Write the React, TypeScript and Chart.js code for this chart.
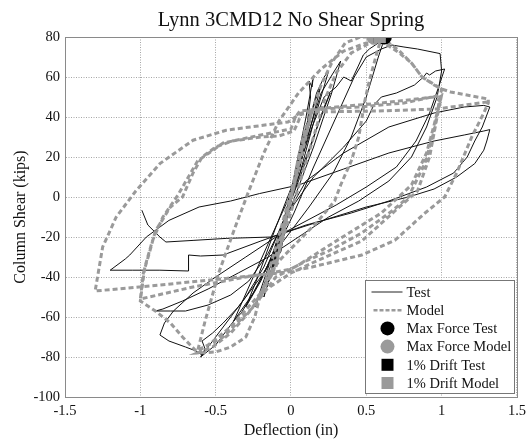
import React, { useEffect, useRef } from "react";
import { Chart, registerables } from "chart.js";

Chart.register(...registerables);

const chartTitle = "Lynn 3CMD12 No Shear Spring";
const xAxisLabel = "Deflection (in)";
const yAxisLabel = "Column Shear (kips)";
const xTickValues = [-1.5, -1, -0.5, 0, 0.5, 1, 1.5];
const yTickValues = [-100, -80, -60, -40, -20, 0, 20, 40, 60, 80];

// Test (deflection in, shear kips)
const testPath: [number, number][] = [
  [0, 0], [0.03, 12], [0.06, 24], [0.02, 6], [-0.02, -8], [-0.05, -20], [-0.01, -3], [0.04, 15], [0.08, 30], [0.03, 8],
  [-0.03, -12], [-0.07, -28], [-0.02, -6], [0.05, 18], [0.1, 35], [0.13, 42], [0.06, 15], [-0.04, -12], [-0.1, -32],
  [-0.13, -38], [-0.05, -12], [0.06, 20], [0.11, 38], [0.13, 50], [0.12, 58], [0.14, 55], [0.15, 61], [0.1, 40], [0.02, 10],
  [-0.06, -18], [-0.12, -36], [-0.16, -45], [-0.08, -22], [0.02, 5], [0.1, 30], [0.16, 48], [0.2, 56], [0.14, 38],
  [0.04, 10], [-0.06, -18], [-0.14, -40], [-0.18, -50], [-0.1, -28], [0.0, 2], [0.1, 32], [0.17, 52], [0.22, 60],
  [0.25, 63], [0.16, 40], [0.06, 12], [-0.06, -16], [-0.15, -38], [-0.2, -48], [-0.24, -55], [-0.15, -35], [-0.02, -5],
  [0.1, 28], [0.2, 52], [0.28, 62], [0.33, 68], [0.27, 52], [0.15, 25], [0, -5], [-0.14, -32], [-0.25, -48], [-0.33, -58],
  [-0.38, -62], [-0.28, -45], [-0.12, -18], [0.05, 10], [0.15, 30], [0.22, 45], [0.26, 52], [0.18, 36], [0.08, 14],
  [-0.04, -10], [-0.12, -28], [-0.2, -42], [-0.3, -55], [-0.22, -40], [-0.1, -15], [0.04, 12], [0.14, 35], [0.22, 50],
  [0.3, 55], [0.35, 60], [0.4, 58], [0.45, 66],
  [0.48, 71], [0.52, 74], [0.58, 77], [0.62, 79], [0.58, 70], [0.5, 50], [0.4, 30], [0.28, 12], [0.12, -5], [-0.05, -22],
  [-0.2, -40], [-0.35, -55], [-0.45, -63], [-0.52, -68], [-0.59, -72], [-0.57, -76], [-0.6, -80], [-0.5, -74],
  [-0.38, -62], [-0.25, -48], [-0.12, -30], [0.02, -8], [0.15, 15], [0.3, 40], [0.42, 60], [0.5, 70], [0.6, 74],
  [0.67, 76], [0.75, 75], [0.84, 74], [0.99, 71.7], [1.0, 63], [0.97, 50], [0.9, 35], [0.8, 20], [0.65, 8], [0.45, -2],
  [0.25, -10], [0.05, -20], [-0.15, -30], [-0.35, -38], [-0.55, -46], [-0.72, -52], [-0.85, -56], [-0.9, -57],
  [-0.8, -57], [-0.7, -57], [-0.55, -54], [-0.4, -49], [-0.28, -42], [-0.15, -28], [-0.02, -8], [0.15, 10], [0.35, 25],
  [0.5, 38], [0.55, 46], [0.6, 50], [0.7, 52], [0.82, 56], [0.88, 60], [0.9, 62], [0.92, 61], [0.96, 63], [1.02, 64],
  [0.98, 55], [0.92, 42], [0.83, 28], [0.7, 15], [0.5, 5], [0.3, -4], [0.1, -12], [-0.1, -20], [-0.3, -30], [-0.5, -40],
  [-0.65, -48], [-0.78, -57], [-0.84, -63], [-0.87, -69], [-0.81, -72], [-0.7, -75], [-0.63, -77], [-0.59, -79],
  [-0.45, -65], [-0.3, -50], [-0.18, -35], [-0.05, -12], [0.1, 8], [0.35, 22], [0.65, 35], [0.95, 42], [1.15, 45],
  [1.28, 45.8], [1.32, 45], [1.27, 35], [1.22, 28], [1.17, 20], [1.08, 12], [0.9, 5], [0.65, -2], [0.4, -8], [0.1, -14],
  [-0.2, -22], [-0.45, -29], [-0.6, -29.5], [-0.68, -29], [-0.68, -37], [-0.87, -36.6], [-1.05, -36.6], [-1.2, -36.6],
  [-1.1, -31], [-1.07, -29], [-0.96, -20], [-0.81, -11.7], [-0.61, -5], [-0.4, -2], [-0.21, 1.7], [0.05, 6], [0.35, 14],
  [0.65, 22], [0.95, 28], [1.15, 31], [1.28, 33], [1.32, 33.7], [1.3, 28], [1.28, 23.4], [1.22, 16.7], [1.1, 10],
  [0.95, 4], [0.78, 0], [0.5, -5], [0.2, -12], [-0.13, -20], [-0.43, -20.7], [-0.65, -21.7], [-0.83, -22.5], [-0.87, -20],
  [-0.95, -14], [-0.99, -6.6],
];

// Model (deflection in, shear kips)
const modelPath: [number, number][] = [
  [0, 0], [0.05, 20], [0.1, 36], [0.04, 12], [-0.05, -18], [-0.1, -35], [-0.03, -10], [0.06, 22], [0.14, 44], [0.07, 20],
  [-0.05, -15], [-0.13, -38], [-0.2, -50], [-0.1, -25], [0.02, 8], [0.12, 38], [0.2, 56], [0.27, 67], [0.36, 77],
  [0.46, 80], [0.55, 80], [0.6, 79.5],
  [0.57, 72], [0.52, 58], [0.49, 48], [0.45, 30], [0.4, 18], [0.33, 6], [0.29, -2], [0.18, -12], [0.05, -22], [-0.08, -32],
  [-0.13, -38], [-0.2, -48], [-0.26, -56], [-0.4, -68], [-0.52, -75], [-0.62, -78],
  [-0.5, -77.5], [-0.4, -75], [-0.3, -70], [-0.24, -60], [-0.2, -48], [-0.12, -38], [-0.05, -20], [0.05, 5], [0.15, 30],
  [0.22, 48], [0.3, 62], [0.4, 72], [0.55, 78], [0.65, 77], [0.72, 73], [0.8, 67], [0.87, 60], [0.95, 56], [1.0, 54],
  [0.98, 46], [0.95, 33], [0.89, 17], [0.78, 0], [0.67, -7], [0.47, -18], [0.25, -27], [0.1, -32], [0, -36], [-0.13, -38],
  [-0.3, -40], [-0.65, -45], [-1.0, -51],
  [-0.98, -38], [-0.94, -28], [-0.9, -17], [-0.8, -5], [-0.72, 0], [-0.65, 12], [-0.59, 20], [-0.5, 25], [-0.39, 28],
  [-0.2, 30], [-0.08, 30.5], [0.02, 33], [0.05, 38], [0.07, 42], [0.2, 44], [0.45, 45], [0.75, 47], [1.0, 51],
  [0.97, 40], [0.92, 20], [0.84, 3], [0.69, -7], [0.47, -22], [0.14, -33], [0, -38], [-0.2, -48], [-0.4, -65],
  [-0.55, -74], [-0.63, -77], [-0.72, -70], [-0.8, -63], [-0.9, -57], [-1.0, -52],
  [-0.97, -35], [-0.92, -22], [-0.85, -10], [-0.75, 1], [-0.62, 18], [-0.45, 27], [-0.2, 31], [0, 34], [0.03, 40],
  [0.06, 43], [0.3, 45], [0.6, 47], [0.95, 50], [0.99, 48], [0.95, 36], [0.9, 22], [0.8, 6], [0.6, -8], [0.3, -22],
  [0.05, -34], [-0.1, -40], [-0.25, -55], [-0.45, -70], [-0.62, -77],
  [-0.57, -62], [-0.48, -38], [-0.37, -15], [-0.28, 3], [-0.18, 22], [-0.08, 38], [0.05, 52], [0.2, 64], [0.35, 73],
  [0.5, 77], [0.62, 77], [0.72, 72], [0.8, 67], [0.87, 60], [1.0, 54], [1.06, 52.5], [1.2, 50.5], [1.31, 49],
  [1.31, 47], [1.28, 42], [1.2, 30], [1.1, 12], [1.02, 0], [0.89, -8], [0.69, -21.6], [0.47, -29], [0.14, -35],
  [-0.02, -37.5], [-0.43, -40.7], [-0.87, -44], [-1.3, -47],
  [-1.25, -25], [-1.16, -10], [-1.03, 3], [-0.87, 16.7], [-0.65, 28.4], [-0.43, 33.4], [-0.02, 37.5], [0.05, 41],
  [0.14, 42.5], [0.58, 43], [0.97, 44], [1.3, 47.5],
];

const maxForceTest: [number, number] = [0.62, 80];
const maxForceModel: [number, number] = [0.55, 80];
const driftTest: [number, number] = [0.59, 80];
const driftModel: [number, number] = [0.59, 80];

const legendLabels = ["Test", "Model", "Max Force Test", "Max Force Model", "1% Drift Test", "1% Drift Model"];

const SERIF = "'Liberation Serif', 'Times New Roman', serif";
const BLACK = "#000000";
const GRAY = "#9a9a9a";
const MODEL_DASH = [5, 3];

const toXY = (pts: [number, number][]) => pts.map(([x, y]) => ({ x, y }));

const framePlugin = {
  id: "frame",
  afterDraw(chart: any) {
    const { ctx, chartArea: a } = chart;
    ctx.save();
    ctx.strokeStyle = "#8a8a8a";
    ctx.lineWidth = 1;
    ctx.setLineDash([]);
    ctx.strokeRect(Math.round(a.left) + 0.5, Math.round(a.top) + 0.5, Math.round(a.right - a.left), Math.round(a.bottom - a.top));
    ctx.restore();
  },
};

const titlePlugin = {
  id: "topTitle",
  afterDraw(chart: any) {
    const { ctx, chartArea: a } = chart;
    ctx.save();
    ctx.fillStyle = "#111";
    ctx.font = `20.5px ${SERIF}`;
    ctx.textAlign = "center";
    ctx.textBaseline = "alphabetic";
    ctx.fillText(chartTitle, (a.left + a.right) / 2, 26);
    ctx.restore();
  },
};

const legendPlugin = {
  id: "boxLegend",
  afterDraw(chart: any) {
    const { ctx, chartArea: a } = chart;
    const boxW = 149;
    const boxH = 113;
    const bx = Math.round(a.right - 3 - boxW) + 0.5;
    const by = Math.round(a.bottom - 4 - boxH) + 0.5;
    ctx.save();
    ctx.fillStyle = "#ffffff";
    ctx.fillRect(bx, by, boxW, boxH);
    ctx.strokeStyle = "#777";
    ctx.lineWidth = 1;
    ctx.strokeRect(bx, by, boxW, boxH);
    const step = 18.2;
    const y0 = by + 11.5;
    const symX = bx + 22;
    const textX = bx + 41;
    ctx.font = `14.5px ${SERIF}`;
    ctx.textBaseline = "middle";
    ctx.textAlign = "left";
    legendLabels.forEach((label, i) => {
      const y = y0 + i * step;
      if (i === 0) {
        ctx.strokeStyle = "#222";
        ctx.lineWidth = 1;
        ctx.setLineDash([]);
        ctx.beginPath();
        ctx.moveTo(bx + 6, y);
        ctx.lineTo(bx + 37, y);
        ctx.stroke();
      } else if (i === 1) {
        ctx.strokeStyle = GRAY;
        ctx.lineWidth = 2.5;
        ctx.setLineDash([4, 2]);
        ctx.beginPath();
        ctx.moveTo(bx + 8, y);
        ctx.lineTo(bx + 37, y);
        ctx.stroke();
        ctx.setLineDash([]);
      } else {
        ctx.fillStyle = i % 2 === 0 ? BLACK : GRAY;
        ctx.beginPath();
        if (i < 4) {
          ctx.arc(symX, y, 7, 0, Math.PI * 2);
        } else {
          ctx.rect(symX - 6, y - 6, 12, 12);
        }
        ctx.fill();
      }
      ctx.fillStyle = "#111";
      ctx.fillText(label, textX, y + 1);
    });
    ctx.restore();
  },
};

export default function App() {
  const canvasRef = useRef<HTMLCanvasElement | null>(null);

  useEffect(() => {
    const canvas = canvasRef.current;
    if (!canvas) return;
    const chart = new Chart(canvas, {
      type: "scatter",
      data: {
        datasets: [
          {
            label: legendLabels[0],
            data: toXY(testPath),
            showLine: true,
            borderColor: "#111111",
            borderWidth: 1,
            pointRadius: 0,
            tension: 0,
            order: 10,
          },
          {
            label: legendLabels[1],
            data: toXY(modelPath),
            showLine: true,
            borderColor: GRAY,
            borderWidth: 3,
            borderDash: MODEL_DASH,
            pointRadius: 0,
            tension: 0,
            order: 9,
          },
          {
            label: legendLabels[2],
            data: toXY([maxForceTest]),
            pointStyle: "circle",
            pointRadius: 7.5,
            backgroundColor: BLACK,
            borderColor: BLACK,
            borderWidth: 0,
            order: 8,
          },
          {
            label: legendLabels[3],
            data: toXY([maxForceModel]),
            pointStyle: "circle",
            pointRadius: 7.5,
            backgroundColor: GRAY,
            borderColor: GRAY,
            borderWidth: 0,
            order: 7,
          },
          {
            label: legendLabels[4],
            data: toXY([driftTest]),
            pointStyle: "rect",
            pointRadius: 8.5,
            backgroundColor: BLACK,
            borderColor: BLACK,
            borderWidth: 0,
            order: 6,
          },
          {
            label: legendLabels[5],
            data: toXY([driftModel]),
            pointStyle: "rect",
            pointRadius: 8.5,
            backgroundColor: GRAY,
            borderColor: GRAY,
            borderWidth: 0,
            order: 5,
          },
        ],
      },
      options: {
        responsive: false,
        animation: false,
        events: [],
        layout: { padding: { left: 0, top: 37, right: 12, bottom: 0 } },
        plugins: {
          legend: { display: false },
          title: { display: false },
          tooltip: { enabled: false },
        },
        scales: {
          x: {
            type: "linear",
            min: -1.5,
            max: 1.5,
            afterBuildTicks: (scale: any) => {
              scale.ticks = xTickValues.map((v) => ({ value: v }));
            },
            afterFit: (scale: any) => {
              scale.height = 43;
            },
            ticks: {
              color: "#111",
              font: { family: SERIF, size: 14.5 },
              padding: 5,
              maxRotation: 0,
              autoSkip: false,
              callback: (v: any) => String(v),
            },
            grid: { color: "#a6a6a6", lineWidth: 1, drawTicks: false },
            border: { display: true, color: "#8a8a8a", dash: [1, 1.5] },
            title: {
              display: true,
              text: xAxisLabel,
              color: "#111",
              font: { family: SERIF, size: 16 },
              padding: { top: 0, bottom: 0 },
            },
          },
          y: {
            type: "linear",
            min: -100,
            max: 80,
            afterBuildTicks: (scale: any) => {
              scale.ticks = yTickValues.map((v) => ({ value: v }));
            },
            afterFit: (scale: any) => {
              scale.width = 65;
            },
            ticks: {
              color: "#111",
              font: { family: SERIF, size: 14.5 },
              padding: 5,
              autoSkip: false,
              callback: (v: any) => String(v),
            },
            grid: { color: "#a6a6a6", lineWidth: 1, drawTicks: false },
            border: { display: true, color: "#8a8a8a", dash: [1, 1.5] },
            title: {
              display: true,
              text: yAxisLabel,
              color: "#111",
              font: { family: SERIF, size: 16 },
              padding: { top: 11, bottom: 0 },
            },
          },
        },
      },
      plugins: [framePlugin, titlePlugin, legendPlugin],
    });
    return () => chart.destroy();
  }, []);

  return (
    <div style={{ position: "fixed", left: 0, top: 0, width: 531, height: 440, background: "#fff" }}>
      <canvas ref={canvasRef} width={531} height={440} style={{ display: "block", width: 531, height: 440 }} />
    </div>
  );
}
